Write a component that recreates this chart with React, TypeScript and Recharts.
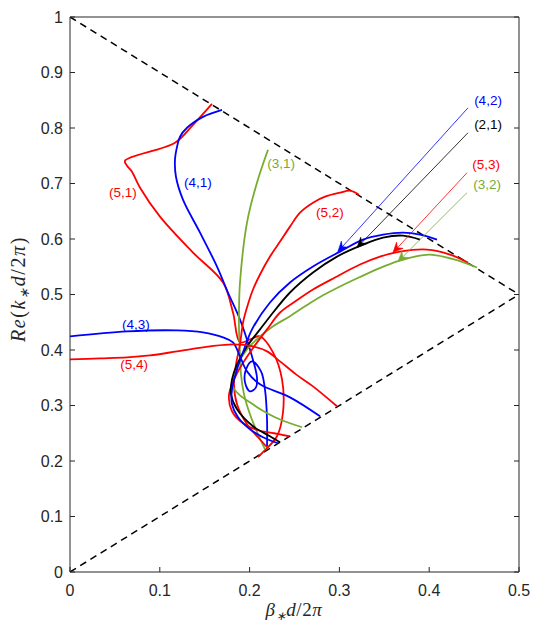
import { ComposedChart, Line, Scatter, XAxis, YAxis } from 'recharts';

// chart geometry (px)
const W = 535;
const H = 624;
const PLOT_W = 449;
const PLOT_H = 555;

const RED = '#ff0000';
const BLUE = '#0000ff';
const GREEN = '#77ac30';
const BLACK = '#000000';

const xTicks = [0, 0.1, 0.2, 0.3, 0.4, 0.5];
const yTicks = [0, 0.1, 0.2, 0.3, 0.4, 0.5, 0.6, 0.7, 0.8, 0.9, 1];

// light-line boundaries
const upperBound = [[0, 1], [0.5, 0.5]];
const lowerBound = [[0, 0], [0.5, 0.5]];

// branches
const curve51 = [
  [0.1581, 0.8435], [0.137, 0.8058], [0.1169, 0.7734], [0.0612, 0.741], [0.0635, 0.732],
  [0.069, 0.7212], [0.078, 0.6924], [0.1002, 0.6403], [0.137, 0.5755], [0.1704, 0.5216],
  [0.1815, 0.4676], [0.1893, 0.4137], [0.2004, 0.4191], [0.2116, 0.4245], [0.2261, 0.3957],
  [0.2361, 0.3471], [0.2372, 0.2878], [0.2305, 0.2446], [0.2149, 0.2158], [0.2094, 0.2068],
];
const curve41 = [
  [0.1693, 0.8327], [0.1481, 0.8201], [0.1303, 0.8004], [0.1225, 0.7842], [0.1192, 0.7662],
  [0.1169, 0.7428], [0.118, 0.7122], [0.1258, 0.6709], [0.1448, 0.6115], [0.1637, 0.5504],
  [0.1759, 0.5036], [0.1893, 0.455], [0.2004, 0.4011], [0.2082, 0.3507], [0.2071, 0.3327],
  [0.2004, 0.3255], [0.1949, 0.3417], [0.196, 0.3651], [0.2027, 0.3795], [0.2127, 0.3615],
  [0.2171, 0.3291], [0.2194, 0.2752], [0.2194, 0.2266],
];
const curve31 = [
  [0.2205, 0.7608], [0.2082, 0.7014], [0.1971, 0.6295], [0.1893, 0.5216], [0.1882, 0.473],
  [0.1882, 0.437], [0.1893, 0.3921], [0.1904, 0.3561], [0.1938, 0.3201], [0.2004, 0.2842],
  [0.2094, 0.2482], [0.2171, 0.2212],
];
const curve52 = [
  [0.3218, 0.6799], [0.3118, 0.6871], [0.3007, 0.6835], [0.284, 0.6763], [0.2706, 0.6655],
  [0.2561, 0.6475], [0.245, 0.6223], [0.2339, 0.5953], [0.2227, 0.5683], [0.2116, 0.536],
  [0.2038, 0.509], [0.1971, 0.4766], [0.1927, 0.4496], [0.1893, 0.4101], [0.1849, 0.3741],
  [0.1826, 0.3381], [0.186, 0.3022], [0.1971, 0.2662], [0.2094, 0.2428], [0.2194, 0.2248],
];
const curve42 = [
  [0.4087, 0.5989], [0.3898, 0.6079], [0.3708, 0.6115], [0.3486, 0.6079], [0.3263, 0.5989],
  [0.3007, 0.5773], [0.2706, 0.5504], [0.245, 0.5216], [0.2227, 0.4856], [0.2027, 0.4371],
  [0.1938, 0.4011], [0.186, 0.3651], [0.1804, 0.3291], [0.1804, 0.3022], [0.1871, 0.2788],
  [0.2004, 0.2572], [0.2149, 0.2428], [0.2316, 0.232],
];
const curve21 = [
  [0.3898, 0.5989], [0.3708, 0.6061], [0.3486, 0.6025], [0.3263, 0.5899], [0.2973, 0.5683],
  [0.2706, 0.5396], [0.245, 0.5036], [0.2227, 0.4604], [0.2116, 0.4371], [0.1971, 0.4065],
  [0.186, 0.3741], [0.1804, 0.3471], [0.1793, 0.3201], [0.186, 0.2932], [0.2038, 0.2626],
  [0.2227, 0.2446], [0.2339, 0.2338],
];
const curve53 = [
  [0.4432, 0.5576], [0.4232, 0.5719], [0.3976, 0.5809], [0.3675, 0.5773], [0.3452, 0.5683],
  [0.3229, 0.554], [0.2951, 0.5306], [0.2706, 0.509], [0.2506, 0.4874], [0.2339, 0.4676],
  [0.2194, 0.4371], [0.2027, 0.4011], [0.1871, 0.3615], [0.1771, 0.3201], [0.1804, 0.2896],
  [0.1927, 0.268], [0.2094, 0.2554], [0.2272, 0.25], [0.2439, 0.2446],
];
const curve32 = [
  [0.4532, 0.5486], [0.4287, 0.5629], [0.4009, 0.5719], [0.383, 0.568], [0.3653, 0.56],
  [0.345, 0.5475], [0.3229, 0.5315], [0.3007, 0.5145], [0.2817, 0.4985], [0.263, 0.48],
  [0.245, 0.461], [0.2227, 0.4388], [0.1971, 0.4011], [0.186, 0.3705], [0.1815, 0.3345],
  [0.1893, 0.3183], [0.2004, 0.3058], [0.2138, 0.2914], [0.2283, 0.2788], [0.245, 0.268],
  [0.2584, 0.2608],
];
const curve43 = [
  [0, 0.4245], [0.0635, 0.4335], [0.1192, 0.4353], [0.1481, 0.4317], [0.1704, 0.4227],
  [0.1815, 0.4137], [0.1893, 0.3885], [0.1971, 0.3615], [0.2116, 0.3381], [0.245, 0.3147],
  [0.2784, 0.2806],
];
const curve54 = [
  [0, 0.3831], [0.0334, 0.3849], [0.0635, 0.3867], [0.0891, 0.3903], [0.1192, 0.3975],
  [0.1559, 0.4065], [0.1815, 0.4101], [0.2038, 0.4065], [0.2194, 0.3975], [0.2339, 0.3795],
  [0.2517, 0.3561], [0.2706, 0.3345], [0.2973, 0.2986],
];

// centripetal Catmull-Rom as a d3-style curve factory (smooth, no overshoot)
function catmullRom(context: any) {
  let xs: number[] = [];
  let ys: number[] = [];
  return {
    areaStart() {},
    areaEnd() {},
    lineStart() { xs = []; ys = []; },
    point(x: number, y: number) { xs.push(+x); ys.push(+y); },
    lineEnd() {
      const n = xs.length;
      if (!n) return;
      context.moveTo(xs[0], ys[0]);
      for (let i = 0; i < n - 1; i++) {
        const i0 = Math.max(i - 1, 0);
        const i3 = Math.min(i + 2, n - 1);
        const d = (a: number, b: number) => Math.sqrt(Math.hypot(xs[a] - xs[b], ys[a] - ys[b]));
        const l01 = i0 === i ? 0 : d(i0, i);
        const l12 = d(i, i + 1);
        const l23 = i3 === i + 1 ? 0 : d(i + 1, i3);
        let c1x = xs[i], c1y = ys[i], c2x = xs[i + 1], c2y = ys[i + 1];
        if (l01 > 1e-6) {
          const a = 2 * l01 * l01 + 3 * l01 * l12 + l12 * l12;
          const m = 3 * l01 * (l01 + l12);
          c1x = (xs[i] * a - xs[i0] * l12 * l12 + xs[i + 1] * l01 * l01) / m;
          c1y = (ys[i] * a - ys[i0] * l12 * l12 + ys[i + 1] * l01 * l01) / m;
        }
        if (l23 > 1e-6) {
          const b = 2 * l23 * l23 + 3 * l23 * l12 + l12 * l12;
          const m = 3 * l23 * (l23 + l12);
          c2x = (xs[i + 1] * b + xs[i] * l23 * l23 - xs[i3] * l12 * l12) / m;
          c2y = (ys[i + 1] * b + ys[i] * l23 * l23 - ys[i3] * l12 * l12) / m;
        }
        context.bezierCurveTo(c1x, c1y, c2x, c2y, xs[i + 1], ys[i + 1]);
      }
    },
  };
}

const curves = [
  { id: '51', color: RED, pts: curve51 },
  { id: '41', color: BLUE, pts: curve41 },
  { id: '31', color: GREEN, pts: curve31 },
  { id: '52', color: RED, pts: curve52 },
  { id: '32', color: GREEN, pts: curve32 },
  { id: '53', color: RED, pts: curve53 },
  { id: '21', color: BLACK, pts: curve21 },
  { id: '42', color: BLUE, pts: curve42 },
  { id: '43', color: BLUE, pts: curve43 },
  { id: '54', color: RED, pts: curve54 },
];

// curve labels
const labelNames = ['(5,1)', '(4,1)', '(3,1)', '(5,2)', '(4,3)', '(5,4)', '(4,2)', '(2,1)', '(5,3)', '(3,2)'];
const labelColors = [RED, BLUE, GREEN, RED, BLUE, RED, BLUE, BLACK, RED, GREEN];
const labelX = [0.059, 0.1425, 0.235, 0.2895, 0.0735, 0.0713, 0.4655, 0.4655, 0.4633, 0.4644];
const labelY = [0.6835, 0.7014, 0.7356, 0.6475, 0.446, 0.3741, 0.8489, 0.8058, 0.7338, 0.6978];

// annotation arrows: [start, tip]
const arrows = [
  { color: BLUE, pts: [[0.4432, 0.8363], [0.2984, 0.5773]] },
  { color: BLACK, pts: [[0.4432, 0.7914], [0.3196, 0.5845]] },
  { color: RED, pts: [[0.4421, 0.7194], [0.3597, 0.5755]] },
  { color: GREEN, pts: [[0.4421, 0.6835], [0.3653, 0.5594]] },
];

const toPts = (arr: number[][]) => arr.map(([x, y]) => ({ x, y }));

const labelData = labelNames.map((name, i) => ({ x: labelX[i], y: labelY[i], name, color: labelColors[i] }));

const AXIS = '#262626';
const tickStyle = { fill: AXIS, fontSize: 16, fontFamily: 'Liberation Sans, Arial, sans-serif' };
const fmt = (v: number) => String(+v.toFixed(1));

function arrowHead(color: string, start: number[], tip: number[]) {
  const dx = (tip[0] - start[0]) * (PLOT_W / 0.5);
  const dy = -(tip[1] - start[1]) * PLOT_H;
  const ang = (Math.atan2(dy, dx) * 180) / Math.PI;
  return (props: any) => {
    const { cx, cy, index } = props;
    if (index !== 1) return <g key={`a-${index}`} />;
    return (
      <path
        key={`a-${index}`}
        d="M0,0 L-10,-4.5 L-6.5,0 L-10,4.5 Z"
        fill={color}
        stroke={color}
        strokeWidth={0.6}
        transform={`translate(${cx},${cy}) rotate(${ang})`}
      />
    );
  };
}

const LabelShape = (props: any) => {
  const { cx, cy, payload } = props;
  return (
    <text
      x={cx}
      y={cy}
      textAnchor="middle"
      dominantBaseline="central"
      fill={payload.color}
      fontSize={13.5}
      fontFamily="Liberation Sans, Arial, sans-serif"
    >
      {payload.name}
    </text>
  );
};

export default function App() {
  return (
    <div style={{ position: 'absolute', left: 0, top: 0, width: W, height: H, background: '#fff' }}>
      <ComposedChart width={W} height={H} margin={{ top: 16, right: 15, bottom: 0, left: 0 }}>
        <XAxis
          xAxisId={0}
          dataKey="x"
          type="number"
          domain={[0, 0.5]}
          ticks={xTicks}
          tickFormatter={fmt}
          height={52}
          tickSize={-5}
          tickMargin={18}
          stroke={AXIS}
          tick={tickStyle}
          allowDataOverflow
        />
        <XAxis
          xAxisId="top"
          orientation="top"
          type="number"
          domain={[0, 0.5]}
          ticks={xTicks}
          height={1}
          tickSize={-5}
          stroke={AXIS}
          tick={() => <g />}
          allowDataOverflow
        />
        <YAxis
          yAxisId={0}
          dataKey="y"
          type="number"
          domain={[0, 1]}
          ticks={yTicks}
          tickFormatter={fmt}
          width={70}
          tickSize={-5}
          tickMargin={12}
          stroke={AXIS}
          tick={tickStyle}
          allowDataOverflow
        />
        <YAxis
          yAxisId="right"
          orientation="right"
          type="number"
          domain={[0, 1]}
          ticks={yTicks}
          width={1}
          tickSize={-5}
          stroke={AXIS}
          tick={() => <g />}
          allowDataOverflow
        />

        <Line data={toPts(upperBound)} dataKey="y" stroke="#000" strokeWidth={1.5} strokeDasharray="7 5"
          dot={false} activeDot={false} isAnimationActive={false} type="linear" />
        <Line data={toPts(lowerBound)} dataKey="y" stroke="#000" strokeWidth={1.5} strokeDasharray="7 5"
          dot={false} activeDot={false} isAnimationActive={false} type="linear" />

        {curves.map((c) => (
          <Line
            key={c.id}
            data={toPts(c.pts)}
            dataKey="y"
            stroke={c.color}
            strokeWidth={1.8}
            dot={false}
            activeDot={false}
            isAnimationActive={false}
            type={catmullRom as any}
          />
        ))}

        {arrows.map((a, i) => (
          <Line
            key={`arrow-${i}`}
            data={toPts(a.pts)}
            dataKey="y"
            stroke={a.color}
            strokeWidth={0.8}
            dot={arrowHead(a.color, a.pts[0], a.pts[1])}
            activeDot={false}
            isAnimationActive={false}
            type="linear"
          />
        ))}

        <Scatter data={labelData} dataKey="y" shape={LabelShape} isAnimationActive={false} />
      </ComposedChart>

      <svg width={W} height={H} style={{ position: 'absolute', left: 0, top: 0, pointerEvents: 'none' }}>
        <text
          x={294}
          y={616}
          textAnchor="middle"
          fontFamily="Liberation Serif, Times New Roman, serif"
          fontStyle="italic"
          fontSize={19}
          letterSpacing={0.6}
          fill={AXIS}
        >
          β<tspan dy={4} fontSize={12}>∗</tspan>
          <tspan dy={-4}>d</tspan>
          <tspan fontStyle="normal">/2</tspan>π
        </text>
        <text
          transform="translate(25,289) rotate(-90)"
          textAnchor="middle"
          fontFamily="Liberation Serif, Times New Roman, serif"
          fontStyle="italic"
          fontSize={20}
          letterSpacing={1.6}
          fill={AXIS}
        >
          Re<tspan fontStyle="normal">(</tspan>k<tspan dy={4} fontSize={13}>∗</tspan>
          <tspan dy={-4}>d</tspan>
          <tspan fontStyle="normal">/2</tspan>π<tspan fontStyle="normal">)</tspan>
        </text>
      </svg>
    </div>
  );
}
